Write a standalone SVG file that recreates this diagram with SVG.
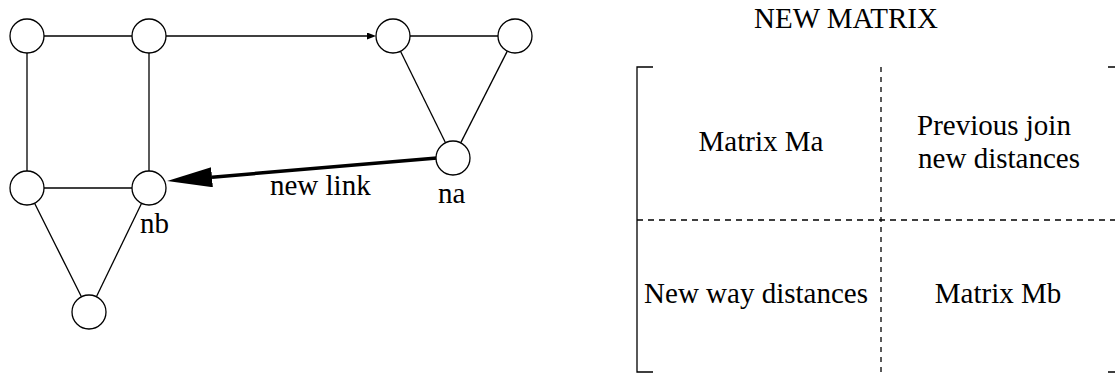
<svg xmlns="http://www.w3.org/2000/svg" width="1115" height="376" viewBox="0 0 1115 376">
<style>
.n{fill:#fff;stroke:#000;stroke-width:1.3}
.e{stroke:#000;stroke-width:1.3;fill:none}
.t{font-family:"Liberation Serif","Times New Roman",serif;font-size:29px;fill:#000}
.d{stroke:#000;stroke-width:1.3;fill:none}
</style>
<defs>
<marker id="small" viewBox="0 0 9 7" refX="0" refY="3.5" markerWidth="9" markerHeight="7" markerUnits="userSpaceOnUse" orient="auto"><path d="M0,0 L9,3.5 L0,7 z" fill="#000"/></marker>
<marker id="big" viewBox="0 0 45 20" refX="0" refY="10" markerWidth="45" markerHeight="20" markerUnits="userSpaceOnUse" orient="auto"><path d="M0,0 L45,10 L0,20 z" fill="#000"/></marker>
</defs>
<g id="connectors">
<line class="e" x1="44" y1="36" x2="132" y2="36"/>
<line class="e" x1="166" y1="36" x2="367" y2="36" marker-end="url(#small)"/>
<line class="e" x1="410" y1="36" x2="498" y2="36"/>
<line class="e" x1="27" y1="53" x2="27" y2="171"/>
<line class="e" x1="149" y1="53" x2="149" y2="171"/>
<line class="e" x1="44" y1="188" x2="132" y2="188"/>
<line class="e" x1="400.5" y1="51.3" x2="445.5" y2="142.7"/>
<line class="e" x1="507.3" y1="51.1" x2="460.7" y2="142.9"/>
<line class="e" x1="34.6" y1="203.2" x2="81.4" y2="296.8"/>
<line class="e" x1="141.6" y1="203.3" x2="96.4" y2="296.7"/>
<line x1="437" y1="158" x2="212" y2="177.2" stroke="#000" stroke-width="3.5" marker-end="url(#big)"/>
</g>
<g id="n1"><circle class="n" cx="27" cy="36" r="17"/></g>
<g id="n2"><circle class="n" cx="149" cy="36" r="17"/></g>
<g id="n3"><circle class="n" cx="393" cy="36" r="17"/></g>
<g id="n4"><circle class="n" cx="515" cy="36" r="17"/></g>
<g id="n5"><circle class="n" cx="27" cy="188" r="17"/></g>
<g id="nb"><circle class="n" cx="149" cy="188" r="17"/><text class="t" x="140" y="233">nb</text></g>
<g id="na"><circle class="n" cx="453" cy="158" r="17"/><text class="t" x="438" y="203">na</text></g>
<g id="n8"><circle class="n" cx="89" cy="312" r="17"/></g>
<text class="t" x="270" y="195">new link</text>
<g id="matrix">
<text class="t" x="846" y="28" text-anchor="middle">NEW MATRIX</text>
<path class="e" d="M653,67 H637 V372 H653"/>
<path class="e" d="M1108,67 H1116 V372 H1108"/>
<line class="d" x1="637" y1="220" x2="1115" y2="220" stroke-dasharray="6,5"/>
<line class="d" x1="881" y1="67" x2="881" y2="374" stroke-dasharray="5,5"/>
<text class="t" x="761" y="151" text-anchor="middle">Matrix Ma</text>
<text class="t" x="994" y="135" text-anchor="middle">Previous join</text>
<text class="t" x="999" y="168" text-anchor="middle">new distances</text>
<text class="t" x="756" y="303" text-anchor="middle">New way distances</text>
<text class="t" x="998" y="303" text-anchor="middle">Matrix Mb</text>
</g>
</svg>
